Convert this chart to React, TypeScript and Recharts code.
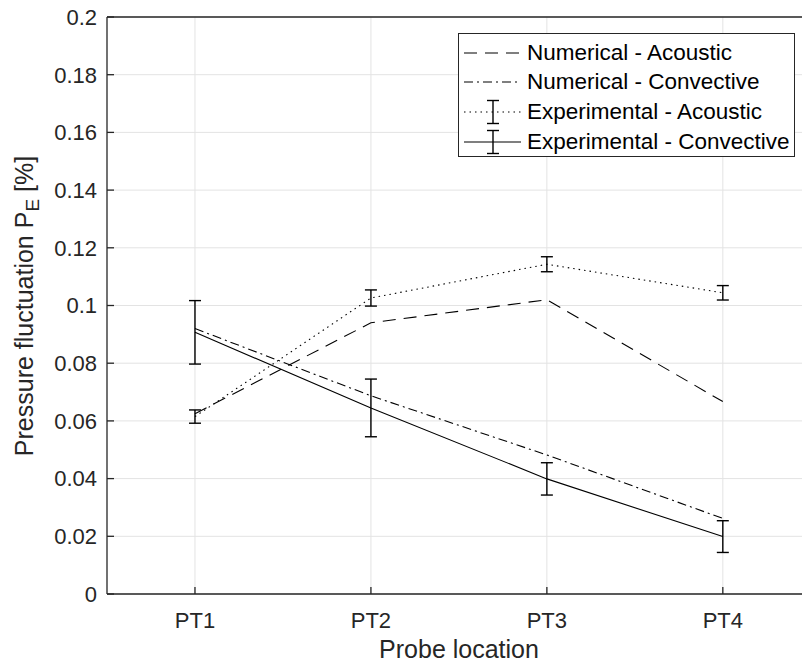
import React from "react";
import { LineChart, Line, XAxis, YAxis, CartesianGrid, ErrorBar, Label } from "recharts";

const locations = ["PT1", "PT2", "PT3", "PT4"];
const locationPos = [1, 2, 3, 4];
const numAcoustic = [0.0625, 0.094, 0.102, 0.0667];
const numConvective = [0.092, 0.0687, 0.0482, 0.0262];
const expAcoustic = [0.0615, 0.1026, 0.1143, 0.1044];
const expAcousticErr = [0.0023, 0.0028, 0.0026, 0.0025];
const expConvective = [0.0907, 0.0645, 0.0399, 0.0199];
const expConvectiveErr = [0.011, 0.01, 0.0056, 0.0055];
const yTicks = [0, 0.02, 0.04, 0.06, 0.08, 0.1, 0.12, 0.14, 0.16, 0.18, 0.2];
// the figure is cropped on the right, so the x range stops a little short of 4.5
const xDomain = [0.5, 4.45];

const data = locations.map((name, i) => ({
  x: locationPos[i],
  name,
  numAcoustic: numAcoustic[i],
  numConvective: numConvective[i],
  expAcoustic: expAcoustic[i],
  expAcousticErr: expAcousticErr[i],
  expConvective: expConvective[i],
  expConvectiveErr: expConvectiveErr[i],
}));

const FONT = '"Liberation Sans", Arial, Helvetica, sans-serif';
const AXIS = "#262626";
const GRID = "#e3e3e3";
const FS = 22;
const LABEL_FS = 25;

const series = [
  { key: "numAcoustic", name: "Numerical - Acoustic", dash: "13 8", err: "" },
  { key: "numConvective", name: "Numerical - Convective", dash: "9 4 2 4", err: "" },
  { key: "expAcoustic", name: "Experimental - Acoustic", dash: "1.5 4", err: "expAcousticErr" },
  { key: "expConvective", name: "Experimental - Convective", dash: undefined, err: "expConvectiveErr" },
];

const fmtY = (v: number) => (v === 0 ? "0" : String(+v.toFixed(2)));
const fmtX = (v: number) => locations[locationPos.indexOf(v)] ?? "";

// rotated y title, subscript E drawn with tspans
const YTitle = () => {
  const cx = 33;
  const cy = 306;
  return (
    <text
      x={cx}
      y={cy}
      transform={`rotate(-90 ${cx} ${cy})`}
      textAnchor="middle"
      fill={AXIS}
      fontFamily={FONT}
      fontSize={LABEL_FS}
    >
      Pressure fluctuation P
      <tspan dy={6} fontSize={19}>E</tspan>
      <tspan dy={-6}> [%]</tspan>
    </text>
  );
};

const XTitle = () => (
  <text x={459} y={658} textAnchor="middle" fill={AXIS} fontFamily={FONT} fontSize={LABEL_FS}>
    Probe location
  </text>
);

function LegendBox() {
  return (
    <div
      style={{
        position: "absolute",
        left: 458,
        top: 33,
        width: 337,
        height: 124,
        border: `1px solid ${AXIS}`,
        background: "#fff",
        boxSizing: "border-box",
        fontFamily: FONT,
        fontSize: 22.5,
        color: "#000",
      }}
    >
      {series.map((s, i) => (
        <div
          key={s.key}
          style={{ position: "absolute", left: 0, top: 4 + i * 29.6, height: 29.6, display: "flex", alignItems: "center", whiteSpace: "nowrap" }}
        >
          <svg width={63} height={30} style={{ display: "block" }}>
            <line x1={5} x2={62} y1={15} y2={15} stroke="#000" strokeWidth={1.1} strokeDasharray={s.dash} />
            {s.err && (
              <g stroke="#000" strokeWidth={1.4}>
                <line x1={34} x2={34} y1={3.5} y2={26.5} />
                <line x1={28} x2={40} y1={3.5} y2={3.5} />
                <line x1={28} x2={40} y1={26.5} y2={26.5} />
              </g>
            )}
          </svg>
          <span style={{ marginLeft: 5, lineHeight: "30px" }}>{s.name}</span>
        </div>
      ))}
    </div>
  );
}

export default function App() {
  const tickStyle = { fill: AXIS, fontSize: FS, fontFamily: FONT };
  return (
    <div style={{ position: "fixed", left: 0, top: 0, width: 802, height: 664, overflow: "hidden", background: "#fff" }}>
      <LineChart width={802} height={664} data={data} margin={{ top: 16, right: 0, bottom: 0, left: 0 }}>
        <CartesianGrid stroke={GRID} strokeWidth={1} syncWithTicks />
        <XAxis
          dataKey="x"
          type="number"
          domain={xDomain}
          allowDataOverflow
          ticks={locationPos}
          tickFormatter={fmtX}
          height={70}
          tickSize={-7}
          tickMargin={25}
          tick={tickStyle}
          stroke={AXIS}
          strokeWidth={1.3}
          interval={0}
        >
          <Label content={<XTitle />} />
        </XAxis>
        <XAxis
          xAxisId="top"
          orientation="top"
          dataKey="x"
          type="number"
          domain={xDomain}
          allowDataOverflow
          ticks={locationPos}
          height={1}
          tickSize={-7}
          tick={false}
          stroke={AXIS}
          strokeWidth={1.3}
          interval={0}
        />
        <YAxis
          type="number"
          domain={[0, 0.2]}
          ticks={yTicks}
          tickFormatter={fmtY}
          width={107}
          tickSize={-7}
          tickMargin={17}
          tick={tickStyle}
          stroke={AXIS}
          strokeWidth={1.3}
          interval={0}
        >
          <Label content={<YTitle />} />
        </YAxis>
        {series.map((s) => (
          <Line
            key={s.key}
            dataKey={s.key}
            name={s.name}
            type="linear"
            stroke="#000"
            strokeWidth={1.1}
            strokeDasharray={s.dash}
            dot={false}
            activeDot={false}
            isAnimationActive={false}
          >
            {s.err && <ErrorBar dataKey={s.err} width={6} stroke="#000" strokeWidth={1.4} direction="y" isAnimationActive={false} />}
          </Line>
        ))}
      </LineChart>
      <LegendBox />
    </div>
  );
}
